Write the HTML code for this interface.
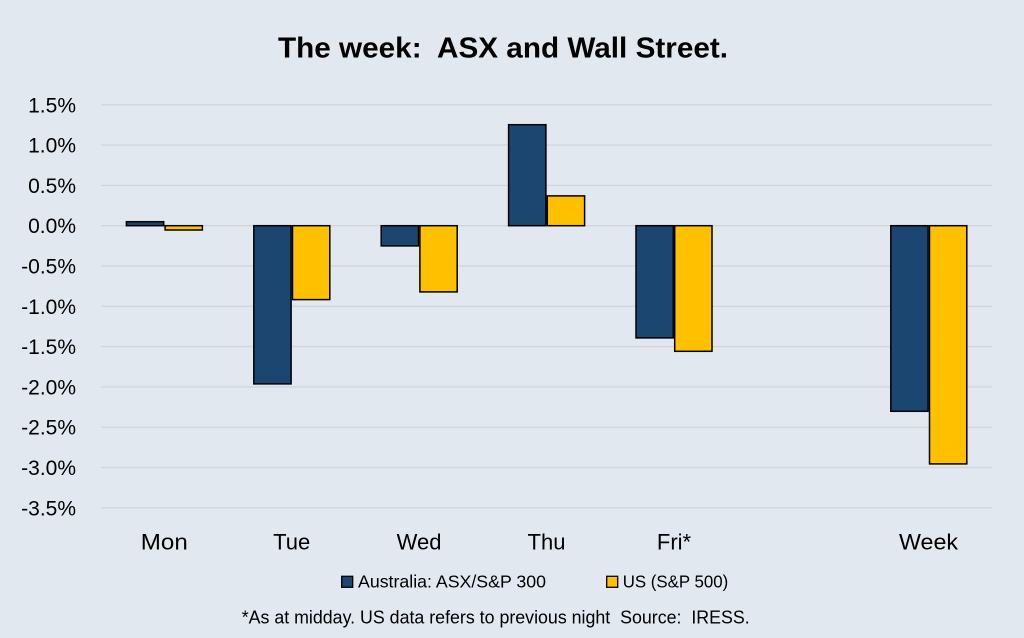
<!DOCTYPE html>
<html><head><meta charset="utf-8"><style>
html,body{margin:0;padding:0;background:#e2e8ef;}
svg{display:block;}
text{font-family:"Liberation Sans",sans-serif;fill:#000;white-space:pre;}
</style></head><body>
<svg width="1024" height="638" viewBox="0 0 1024 638" xmlns="http://www.w3.org/2000/svg" xml:space="preserve">
<rect x="0" y="0" width="1024" height="638" fill="#e2e8ef"/>
<text x="278" y="57.3" font-size="29" font-weight="bold" textLength="450" lengthAdjust="spacingAndGlyphs">The week:  ASX and Wall Street.</text>
<g stroke="#d3d6d9" stroke-width="1.4">
<line x1="101" x2="992" y1="104.8" y2="104.8"/>
<line x1="101" x2="992" y1="145.1" y2="145.1"/>
<line x1="101" x2="992" y1="185.4" y2="185.4"/>
<line x1="101" x2="992" y1="225.7" y2="225.7"/>
<line x1="101" x2="992" y1="266.0" y2="266.0"/>
<line x1="101" x2="992" y1="306.3" y2="306.3"/>
<line x1="101" x2="992" y1="346.6" y2="346.6"/>
<line x1="101" x2="992" y1="386.9" y2="386.9"/>
<line x1="101" x2="992" y1="427.2" y2="427.2"/>
<line x1="101" x2="992" y1="467.5" y2="467.5"/>
<line x1="101" x2="992" y1="507.8" y2="507.8"/>
</g>
<g font-size="21" text-anchor="end">
<text x="76" y="112.3">1.5%</text>
<text x="76" y="152.6">1.0%</text>
<text x="76" y="192.9">0.5%</text>
<text x="76" y="233.2">0.0%</text>
<text x="76" y="273.5">-0.5%</text>
<text x="76" y="313.8">-1.0%</text>
<text x="76" y="354.1">-1.5%</text>
<text x="76" y="394.4">-2.0%</text>
<text x="76" y="434.7">-2.5%</text>
<text x="76" y="475.0">-3.0%</text>
<text x="76" y="515.3">-3.5%</text>
</g>
<g stroke="#000" stroke-width="1.5">
<rect x="126.4" y="221.7" width="37.3" height="4.0" fill="#1a4670"/>
<rect x="165.1" y="225.7" width="37.3" height="4.3" fill="#ffc000"/>
<rect x="253.8" y="225.7" width="37.3" height="158.2" fill="#1a4670"/>
<rect x="292.5" y="225.7" width="37.3" height="73.9" fill="#ffc000"/>
<rect x="381.2" y="225.7" width="37.3" height="20.2" fill="#1a4670"/>
<rect x="419.9" y="225.7" width="37.3" height="66.2" fill="#ffc000"/>
<rect x="508.6" y="124.7" width="37.3" height="101.0" fill="#1a4670"/>
<rect x="547.3" y="195.9" width="37.3" height="29.8" fill="#ffc000"/>
<rect x="636.0" y="225.7" width="37.3" height="112.2" fill="#1a4670"/>
<rect x="674.7" y="225.7" width="37.3" height="125.6" fill="#ffc000"/>
<rect x="890.8" y="225.7" width="37.3" height="185.6" fill="#1a4670"/>
<rect x="929.5" y="225.7" width="37.3" height="238.2" fill="#ffc000"/>
</g>
<g font-size="22" text-anchor="middle">
<text x="164.3" y="549.3" textLength="47" lengthAdjust="spacingAndGlyphs">Mon</text>
<text x="291.7" y="549.3">Tue</text>
<text x="419.1" y="549.3">Wed</text>
<text x="546.5" y="549.3">Thu</text>
<text x="674" y="549.3">Fri*</text>
<text x="928.5" y="549.3" textLength="59" lengthAdjust="spacingAndGlyphs">Week</text>
</g>
<rect x="341.7" y="576.3" width="11" height="11" fill="#1a4670" stroke="#000" stroke-width="1.3"/>
<text x="358" y="587.7" font-size="17.5" textLength="188" lengthAdjust="spacingAndGlyphs">Australia: ASX/S&amp;P 300</text>
<rect x="606.7" y="576.3" width="11" height="11" fill="#ffc000" stroke="#000" stroke-width="1.3"/>
<text x="622.7" y="587.7" font-size="17.5" textLength="105.6" lengthAdjust="spacingAndGlyphs">US (S&amp;P 500)</text>
<text x="241.7" y="623.3" font-size="18.5" textLength="508" lengthAdjust="spacingAndGlyphs">*As at midday. US data refers to previous night  Source:  IRESS.</text>
</svg>
</body></html>
